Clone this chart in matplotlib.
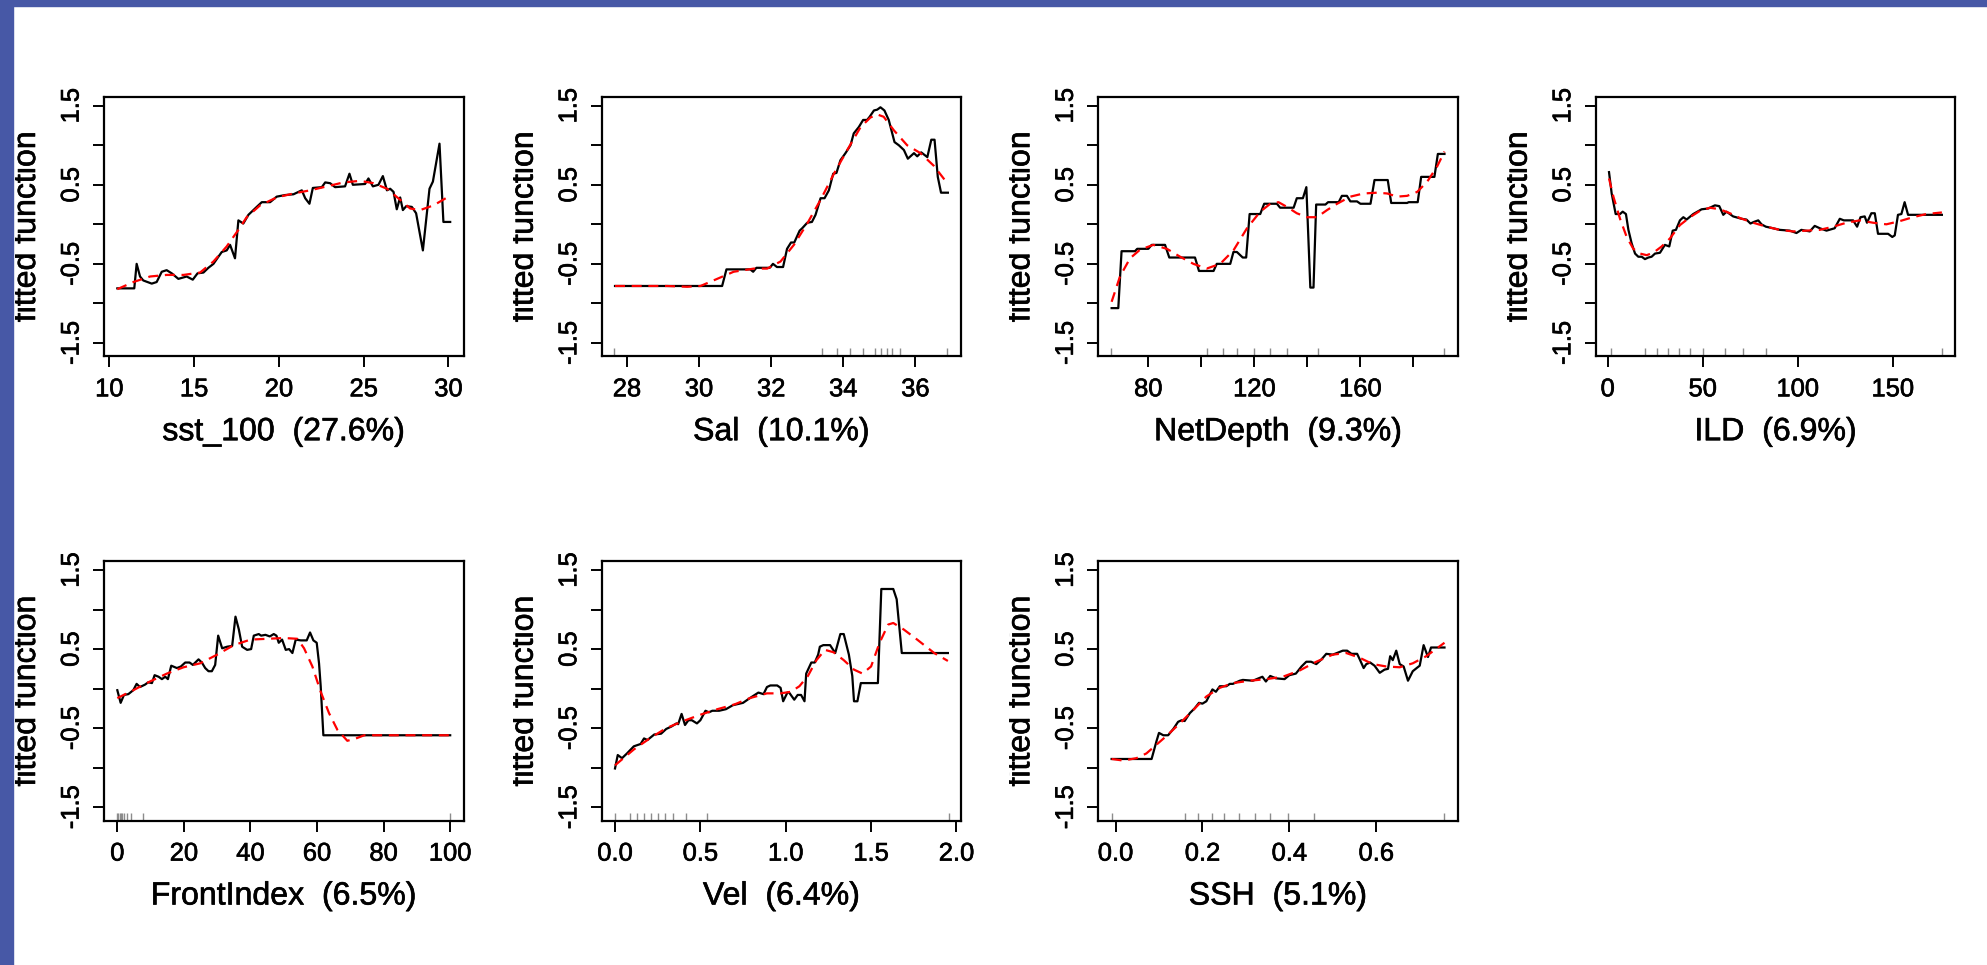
import matplotlib
matplotlib.use('Agg')
import matplotlib.pyplot as plt
import matplotlib.patheffects as pe
from matplotlib.patches import Rectangle
from matplotlib.transforms import Bbox, TransformedBbox

plt.rcParams['font.family'] = ['Liberation Sans', 'DejaVu Sans']

# ---- data ----
# sst_100
sst_x = [10.47, 11.47, 11.61, 11.81, 12.0, 12.5, 12.79, 13.09, 13.38, 13.68, 14.07, 14.56, 14.92, 15.2, 15.55,
         15.84, 16.14, 16.43, 16.63, 16.92, 17.12, 17.41, 17.61, 17.9, 18.2, 18.69, 18.99, 19.48, 19.87, 20.36,
         20.86, 21.35, 21.55, 21.8, 22.0, 22.53, 22.73, 23.02, 23.31, 23.9, 24.16, 24.36, 25.08, 25.28, 25.54,
         25.87, 26.13, 26.37, 26.56, 26.76, 26.95, 27.15, 27.31, 27.51, 27.84, 28.09, 28.49, 28.88, 29.08, 29.47,
         29.7, 30.1]
sst_y = [-0.81, -0.81, -0.50, -0.66, -0.71, -0.75, -0.73, -0.60, -0.58, -0.62, -0.69, -0.66, -0.70, -0.62, -0.61,
         -0.55, -0.50, -0.41, -0.35, -0.33, -0.26, -0.43, 0.05, 0.01, 0.12, 0.22, 0.28, 0.28, 0.35, 0.37,
         0.38, 0.43, 0.33, 0.26, 0.46, 0.47, 0.53, 0.52, 0.47, 0.48, 0.64, 0.50, 0.51, 0.58, 0.48,
         0.50, 0.61, 0.43, 0.45, 0.41, 0.19, 0.34, 0.18, 0.23, 0.22, 0.14, -0.33, 0.45, 0.54, 1.02,
         0.03, 0.03]
sst_sx = [10.47, 11.42, 12.4, 13.38, 14.37, 15.35, 16.14, 16.92, 17.61, 18.1, 18.89, 19.87, 20.86, 21.84, 22.83,
          23.81, 24.79, 25.58, 26.37, 27.15, 27.74, 28.33, 29.12, 30.0]
sst_sy = [-0.82, -0.73, -0.66, -0.64, -0.64, -0.61, -0.47, -0.28, -0.07, 0.09, 0.24, 0.34, 0.39, 0.43, 0.48,
          0.53, 0.55, 0.52, 0.45, 0.31, 0.20, 0.18, 0.24, 0.35]
sst_rug = []

# Sal
sal_x = [27.67, 30.64, 30.76, 31.42, 31.5, 31.59, 31.96, 32.05, 32.16, 32.33, 32.44, 32.55, 32.64, 32.79, 32.86,
         33.0, 33.13, 33.23, 33.37, 33.48, 33.6, 33.72, 33.81, 33.92, 34.06, 34.2, 34.29, 34.43, 34.55, 34.66,
         34.73, 34.85, 34.94, 35.03, 35.14, 35.26, 35.42, 35.54, 35.68, 35.79, 35.96, 36.05, 36.16, 36.33, 36.44,
         36.53, 36.62, 36.71, 36.9]
sal_y = [-0.78, -0.78, -0.57, -0.57, -0.60, -0.55, -0.55, -0.50, -0.54, -0.54, -0.31, -0.23, -0.23, -0.08, -0.05,
         0.02, 0.03, 0.12, 0.33, 0.33, 0.43, 0.64, 0.65, 0.81, 0.90, 1.0, 1.15, 1.23, 1.32, 1.32,
         1.36, 1.44, 1.45, 1.48, 1.44, 1.32, 1.04, 1.0, 0.94, 0.83, 0.90, 0.86, 0.91, 0.85, 1.07,
         1.07, 0.60, 0.40, 0.40]
sal_sx = [27.67, 29.11, 29.67, 30.04, 30.4, 30.96, 31.52, 31.89, 32.26, 32.63, 33.0, 33.37, 33.74, 34.11, 34.48,
          34.75, 34.94, 35.12, 35.4, 35.77, 36.14, 36.51, 36.9]
sal_sy = [-0.78, -0.78, -0.79, -0.78, -0.71, -0.60, -0.56, -0.56, -0.47, -0.26, 0.01, 0.31, 0.64, 0.94, 1.23,
          1.35, 1.39, 1.36, 1.19, 1.0, 0.90, 0.74, 0.51]
sal_rug = [27.64, 33.4, 33.82, 34.18, 34.54, 34.88, 35.04, 35.2, 35.35, 35.58, 36.87]

# NetDepth
nd_x = [66.15, 68.67, 69.9, 74.96, 75.8, 80, 81.26, 86.3, 87.9, 97.6, 99.1, 104.6, 105.8, 110.9, 112.1,
        113.4, 115.6, 116.9, 118.2, 122.2, 123.7, 128.5, 129.7, 134.8, 136.0, 138.3, 139.6, 141.1, 142.3, 143.3,
        146.8, 147.8, 151.8, 153.0, 154.9, 156.2, 158.7, 160, 163.8, 165.3, 170.3, 171.6, 177.6, 178.2, 181.6,
        182.9, 187.9, 189.2, 191.7]
nd_y = [-1.06, -1.06, -0.34, -0.34, -0.31, -0.31, -0.26, -0.26, -0.42, -0.42, -0.59, -0.59, -0.50, -0.50, -0.35,
        -0.35, -0.42, -0.42, 0.13, 0.13, 0.26, 0.26, 0.21, 0.21, 0.33, 0.33, 0.47, -0.80, -0.80, 0.25,
        0.25, 0.28, 0.28, 0.36, 0.36, 0.29, 0.29, 0.26, 0.26, 0.56, 0.56, 0.27, 0.27, 0.28, 0.28,
        0.60, 0.60, 0.89, 0.89]
nd_sx = [66.15, 69.3, 73.1, 76.9, 81.9, 87.0, 92.0, 97.0, 102.0, 107.1, 112.1, 117.2, 122.2, 126.0, 129.1,
         132.3, 136.0, 139.8, 143.6, 147.4, 151.2, 156.2, 161.2, 166.3, 170.1, 173.8, 177.6, 181.4, 185.2, 188.9,
         191.7]
nd_sy = [-0.98, -0.66, -0.43, -0.32, -0.26, -0.31, -0.41, -0.50, -0.56, -0.50, -0.33, -0.05, 0.16, 0.26, 0.28,
         0.22, 0.14, 0.09, 0.09, 0.18, 0.26, 0.35, 0.39, 0.40, 0.39, 0.35, 0.36, 0.41, 0.54, 0.73,
         0.92]
nd_rug = [66.0, 102.1, 108.0, 113.6, 120, 125.9, 132.3, 144.0, 191.7]

# ILD
ild_x = [0.7, 2.1, 4.2, 6.5, 7.9, 9.6, 10.9, 12.6, 14.4, 16.1, 17.9, 19.6, 21.4, 23.1, 24.9,
         27.5, 30.1, 32.4, 34.2, 35.9, 38.0, 39.8, 41.5, 45.0, 49.4, 52.9, 56.4, 58.7, 60.8, 62.5,
         66.0, 70.4, 73.0, 75.1, 76.9, 79.2, 80.9, 83.2, 87.0, 90.5, 95.8, 99.3, 101.9, 106.3, 108.9,
         111.6, 115.1, 119.4, 122.1, 124.2, 126.4, 129.1, 131.2, 133.0, 135.2, 136.4, 138.7, 140.5, 142.2, 147.5,
         149.7, 151.0, 152.7, 154.5, 156.2, 158.0, 175.8]
ild_y = [0.66, 0.39, 0.13, 0.13, 0.16, 0.13, -0.07, -0.24, -0.37, -0.41, -0.41, -0.44, -0.42, -0.41, -0.37,
         -0.36, -0.26, -0.28, -0.08, -0.07, 0.05, 0.09, 0.06, 0.13, 0.19, 0.20, 0.24, 0.23, 0.12, 0.16,
         0.10, 0.07, 0.06, 0.01, 0.03, 0.05, 0.0, -0.03, -0.05, -0.07, -0.08, -0.11, -0.07, -0.09, -0.02,
         -0.05, -0.08, -0.05, 0.07, 0.05, 0.05, 0.05, -0.03, 0.09, 0.10, 0.02, 0.14, 0.14, -0.12, -0.12,
         -0.16, -0.14, 0.12, 0.13, 0.28, 0.12, 0.12]
ild_sx = [0.7, 3.0, 6.5, 10.0, 13.5, 17.0, 20.5, 24.0, 28.4, 32.7, 38.0, 43.3, 48.5, 53.8, 59.0,
          64.3, 69.5, 76.5, 83.5, 90.5, 97.5, 104.6, 111.6, 118.6, 125.6, 132.6, 139.6, 146.6, 153.6, 160.6,
          167.6, 175.8]
ild_sy = [0.58, 0.35, 0.07, -0.16, -0.31, -0.37, -0.39, -0.36, -0.28, -0.18, -0.01, 0.09, 0.17, 0.21, 0.19,
          0.14, 0.08, 0.02, -0.03, -0.07, -0.09, -0.08, -0.07, -0.03, 0.02, 0.05, 0.02, 0.0, 0.04, 0.09,
          0.13, 0.15]
ild_rug = [1.5, 19.7, 25.9, 31.8, 37.4, 43.5, 50, 61.8, 71.2, 83.2, 175.9]

# FrontIndex
fi_x = [0, 1.0, 2.0, 3.3, 4.8, 5.8, 6.8, 8.3, 9.3, 10.4, 11.2, 12.4, 13.4, 14.4, 15.2,
        16.2, 17.9, 19.1, 20.4, 21.7, 22.7, 24.4, 25.4, 26.4, 27.4, 28.4, 29.4, 30.3, 31.5, 33.0,
        34.5, 35.5, 36.5, 37.5, 39.0, 40.2, 41.0, 42.5, 43.2, 44.5, 45.8, 47.0, 47.8, 48.5, 49.5,
        50.6, 51.6, 52.6, 53.6, 55.1, 56.9, 57.9, 58.9, 59.9, 60.6, 61.1, 61.9, 100]
fi_y = [-0.02, -0.18, -0.08, -0.07, -0.02, 0.06, 0.02, 0.05, 0.08, 0.07, 0.17, 0.15, 0.12, 0.15, 0.12,
        0.29, 0.26, 0.28, 0.33, 0.33, 0.30, 0.37, 0.33, 0.26, 0.22, 0.22, 0.30, 0.67, 0.51, 0.53,
        0.54, 0.91, 0.75, 0.53, 0.49, 0.50, 0.67, 0.69, 0.67, 0.68, 0.66, 0.69, 0.67, 0.58, 0.62,
        0.49, 0.50, 0.45, 0.62, 0.61, 0.61, 0.71, 0.61, 0.58, 0.32, 0.03, -0.59, -0.59]
fi_sx = [0, 4.8, 9.8, 14.9, 19.9, 24.9, 30.0, 35.0, 40.0, 45.0, 50.1, 54.1, 56.1, 58.6, 61.1,
         63.6, 66.1, 69.1, 71.7, 74.2, 100]
fi_sy = [-0.12, -0.02, 0.09, 0.19, 0.27, 0.32, 0.43, 0.55, 0.62, 0.63, 0.64, 0.63, 0.51, 0.28, -0.04,
         -0.31, -0.52, -0.66, -0.63, -0.59, -0.59]
fi_rug = [0, 0.3, 0.7, 1.0, 1.5, 2.0, 3.0, 4.1, 7.6, 100]

# Vel
vel_x = [0, 0.016, 0.041, 0.07, 0.11, 0.15, 0.17, 0.19, 0.23, 0.27, 0.30, 0.33, 0.36, 0.37, 0.39,
         0.41, 0.43, 0.45, 0.48, 0.50, 0.53, 0.55, 0.57, 0.61, 0.65, 0.69, 0.75, 0.79, 0.84, 0.87,
         0.89, 0.91, 0.95, 0.97, 0.985, 1.01, 1.02, 1.05, 1.07, 1.09, 1.11, 1.12, 1.15, 1.17, 1.19,
         1.20, 1.22, 1.26, 1.29, 1.32, 1.34, 1.37, 1.39, 1.40, 1.42, 1.44, 1.54, 1.56, 1.63, 1.65,
         1.68, 1.95]
vel_y = [-1.01, -0.84, -0.88, -0.82, -0.73, -0.70, -0.63, -0.65, -0.58, -0.57, -0.51, -0.48, -0.44, -0.45, -0.32,
         -0.46, -0.40, -0.40, -0.44, -0.40, -0.28, -0.30, -0.28, -0.28, -0.26, -0.21, -0.18, -0.12, -0.05, -0.07,
         0.02, 0.04, 0.04, 0.01, -0.16, -0.05, -0.05, -0.14, -0.08, -0.08, -0.16, 0.19, 0.33, 0.33, 0.43,
         0.53, 0.55, 0.55, 0.45, 0.69, 0.69, 0.43, 0.16, -0.16, -0.16, 0.07, 0.07, 1.26, 1.26, 1.13,
         0.45, 0.45]
vel_sx = [0, 0.11, 0.21, 0.30, 0.40, 0.50, 0.60, 0.70, 0.79, 0.89, 0.97, 1.03, 1.08, 1.13, 1.18,
          1.23, 1.28, 1.34, 1.40, 1.45, 1.50, 1.55, 1.60, 1.63, 1.69, 1.77, 1.87, 1.95]
vel_sy = [-0.97, -0.77, -0.62, -0.50, -0.41, -0.33, -0.26, -0.20, -0.12, -0.06, -0.06, -0.04, 0.03, 0.16, 0.36,
          0.49, 0.46, 0.36, 0.24, 0.19, 0.28, 0.58, 0.81, 0.83, 0.75, 0.62, 0.45, 0.35]
vel_rug = [0, 0.086, 0.128, 0.168, 0.21, 0.253, 0.293, 0.342, 0.418, 0.539, 1.954]

# SSH
ssh_x = [-0.009, 0.083, 0.094, 0.10, 0.11, 0.121, 0.133, 0.144, 0.152, 0.159, 0.171, 0.182, 0.192, 0.20, 0.209,
         0.223, 0.231, 0.24, 0.255, 0.263, 0.27, 0.286, 0.293, 0.316, 0.338, 0.346, 0.356, 0.369, 0.389, 0.40,
         0.415, 0.428, 0.439, 0.45, 0.462, 0.474, 0.485, 0.50, 0.514, 0.523, 0.533, 0.543, 0.556, 0.562, 0.571,
         0.577, 0.586, 0.596, 0.608, 0.619, 0.627, 0.632, 0.638, 0.646, 0.654, 0.663, 0.673, 0.684, 0.693, 0.70,
         0.709, 0.719, 0.726, 0.757]
ssh_y = [-0.89, -0.89, -0.67, -0.56, -0.59, -0.59, -0.51, -0.42, -0.40, -0.41, -0.31, -0.25, -0.18, -0.19, -0.16,
         -0.01, -0.04, 0.03, 0.03, 0.06, 0.06, 0.10, 0.11, 0.10, 0.15, 0.09, 0.16, 0.13, 0.12, 0.17,
         0.19, 0.28, 0.34, 0.34, 0.31, 0.37, 0.44, 0.43, 0.46, 0.48, 0.48, 0.44, 0.44, 0.37, 0.26,
         0.31, 0.33, 0.29, 0.20, 0.24, 0.25, 0.41, 0.36, 0.48, 0.31, 0.28, 0.10, 0.22, 0.26, 0.29,
         0.55, 0.40, 0.52, 0.52]
ssh_sx = [-0.009, 0.018, 0.048, 0.071, 0.094, 0.117, 0.148, 0.179, 0.209, 0.24, 0.27, 0.309, 0.347, 0.385, 0.424,
          0.462, 0.50, 0.531, 0.562, 0.592, 0.623, 0.654, 0.684, 0.715, 0.757]
ssh_sy = [-0.89, -0.91, -0.88, -0.82, -0.71, -0.60, -0.44, -0.27, -0.10, 0.01, 0.07, 0.10, 0.12, 0.15, 0.23,
          0.34, 0.43, 0.45, 0.39, 0.31, 0.28, 0.27, 0.32, 0.41, 0.58]
ssh_rug = [-0.009, 0.159, 0.190, 0.221, 0.25, 0.284, 0.32, 0.356, 0.397, 0.456, 0.757]

# axis labels and ticks
xlabels = ['sst_100  (27.6%)', 'Sal  (10.1%)', 'NetDepth  (9.3%)', 'ILD  (6.9%)',
           'FrontIndex  (6.5%)', 'Vel  (6.4%)', 'SSH  (5.1%)']
xticks = [[10, 15, 20, 25, 30], [28, 30, 32, 34, 36], [80, 100, 120, 140, 160, 180], [0, 50, 100, 150],
          [0, 20, 40, 60, 80, 100], [0, 0.5, 1.0, 1.5, 2.0], [0, 0.2, 0.4, 0.6]]
xticklabels = [['10', '15', '20', '25', '30'], ['28', '30', '32', '34', '36'],
               ['80', '', '120', '', '160', ''], ['0', '50', '100', '150'],
               ['0', '20', '40', '60', '80', '100'], ['0.0', '0.5', '1.0', '1.5', '2.0'],
               ['0.0', '0.2', '0.4', '0.6']]
yticks = [-1.5, -1.0, -0.5, 0.0, 0.5, 1.0, 1.5]
yticklabels = ['-1.5', '', '-0.5', '', '0.5', '', '1.5']
ylim = [-1.668, 1.614]

panels = [
    (sst_x, sst_y, sst_sx, sst_sy, sst_rug),
    (sal_x, sal_y, sal_sx, sal_sy, sal_rug),
    (nd_x, nd_y, nd_sx, nd_sy, nd_rug),
    (ild_x, ild_y, ild_sx, ild_sy, ild_rug),
    (fi_x, fi_y, fi_sx, fi_sy, fi_rug),
    (vel_x, vel_y, vel_sx, vel_sy, vel_rug),
    (ssh_x, ssh_y, ssh_sx, ssh_sy, ssh_rug),
]

# ---- layout (pixels) ----
W, H = 1987, 965
fig = plt.figure(figsize=(W / 100, H / 100), dpi=100)
fig.patch.set_facecolor('white')

col_left = [104, 601.7, 1098.3, 1595.7]
row_top = [96.7, 561]
ax_w, ax_h = 359.5, 259.5

# slightly heavier glyphs, like the original rendering
heavy = [pe.withStroke(linewidth=0.45, foreground='black')]

for i, (x, y, sx, sy, rug) in enumerate(panels):
    r, c = divmod(i, 4)
    left = col_left[c]
    top = row_top[r]
    ax = fig.add_axes([left / W, 1 - (top + ax_h) / H, ax_w / W, ax_h / H])

    ax.plot(x, y, color='black', lw=1.6, zorder=3)
    red, = ax.plot(sx, sy, color='#ff0000', lw=1.6, zorder=4)
    red.set_dashes((4.5, 3))

    lo, hi = min(x), max(x)
    pad = 0.04 * (hi - lo)
    ax.set_xlim(lo - pad, hi + pad)
    ax.set_ylim(ylim)

    if rug:
        ax.vlines(rug, 0, 0.03, transform=ax.get_xaxis_transform(), color='#8c8c8c', lw=1.0)

    for sp in ax.spines.values():
        sp.set_linewidth(1.6)

    ax.set_xticks(xticks[i])
    ax.set_xticklabels(xticklabels[i])
    ax.set_yticks(yticks)
    ax.set_yticklabels(yticklabels)
    ax.tick_params(direction='out', length=7.7, width=1.4, labelsize=18.4, colors='black')
    ax.tick_params(axis='x', pad=7.5)
    ax.tick_params(axis='y', pad=7)
    for lbl in ax.get_yticklabels():
        lbl.set_rotation(90)
        lbl.set_va('center')
    for lbl in ax.get_xticklabels() + ax.get_yticklabels():
        lbl.set_path_effects(heavy)

    ax.text(0.5, -84 / ax_h, xlabels[i], transform=ax.transAxes, ha='center', va='baseline',
            fontsize=23.1, path_effects=heavy)

    # y label, clipped at the left edge of its panel region like the original
    t = fig.text(-69 / ax_w, 0.5, 'fitted function', transform=ax.transAxes, rotation=90,
                 rotation_mode='anchor', ha='center', va='baseline', fontsize=23.1, path_effects=heavy)
    clip = TransformedBbox(Bbox.from_extents((left - 89) / W, 0, 1, 1), fig.transFigure)
    t.set_clip_box(clip)
    t.set_clip_on(True)

# blue frame on the top and left edges
band = '#4758a6'
fig.patches.append(Rectangle((0, 0), 13 / W, 1, transform=fig.transFigure, color=band, zorder=10))
fig.patches.append(Rectangle((0, 1 - 6 / H), 1, 6 / H, transform=fig.transFigure, color=band, zorder=10))

fig.savefig('out.png', dpi=100)
